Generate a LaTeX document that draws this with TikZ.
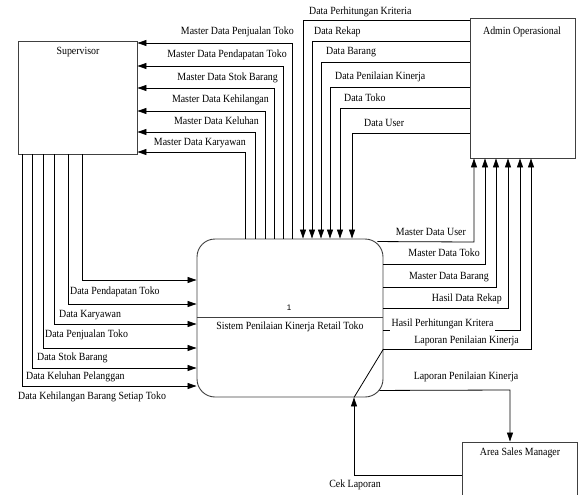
\documentclass[tikz,border=0pt]{standalone}
\usepackage{fontspec}
\setmainfont{Liberation Serif}[FakeStretch=0.9]
\setsansfont{Liberation Sans}
\usetikzlibrary{arrows.meta,calc}
\begin{document}
\begin{tikzpicture}[x=1pt,y=-1pt,
  every node/.style={font=\fontsize{11}{13}\selectfont},
  ent/.style={draw=black!75, line width=0.9pt, rectangle, inner sep=0pt},
  procbox/.style={draw=black!75, line width=0.9pt, rectangle, rounded corners=18pt, inner sep=0pt},
  flow/.style={draw=black, line width=0.8pt, -{Triangle[length=9pt,width=6pt]}},
  plainline/.style={draw=black, line width=0.8pt},
  lbl/.style={inner sep=1pt, text height=8pt, text depth=2.5pt},
]
\useasboundingbox (0,0) rectangle (578,495);
\clip (0,0) rectangle (578,495);

% entities and process
\node[ent, minimum width=119pt, minimum height=113pt] (sup) at (77.5,97.5) {};
\node[lbl] (tsup) at (78,52) {Supervisor};
\node[ent, minimum width=105pt, minimum height=140pt] (adm) at (522.5,88) {};
\node[lbl] (tadm) at (522,32) {Admin Operasional};
\node[procbox, minimum width=186pt, minimum height=158pt] (p) at (290,318) {};
\draw[draw=black!75, line width=0.9pt] (p.west |- 0,317) -- (p.east |- 0,317);
\node[inner sep=0pt, font=\sffamily\fontsize{8}{9}\selectfont] (pnum) at (289,308) {1};
\node[lbl] (ptitle) at (290,327) {Sistem Penilaian Kinerja Retail Toko};
\node[ent, minimum width=115pt, minimum height=100pt] (asm) at (519.5,492) {};
\node[lbl] (tasm) at (520,453) {Area Sales Manager};

% process -> supervisor (master data)
\draw[flow] (p.north -| 292,0) -- (292,43) -- (sup.east |- 0,43);
\draw[flow] (p.north -| 283,0) -- (283,66) -- (sup.east |- 0,66);
\draw[flow] (p.north -| 274,0) -- (274,88) -- (sup.east |- 0,88);
\draw[flow] (p.north -| 265,0) -- (265,111) -- (sup.east |- 0,111);
\draw[flow] (p.north -| 255,0) -- (255,132) -- (sup.east |- 0,132);
\draw[flow] (p.north -| 245,0) -- (245,152) -- (sup.east |- 0,152);
\node[lbl, anchor=east] (l1) at (295,32) {Master Data Penjualan Toko};
\node[lbl, anchor=east] (l2) at (288,55) {Master Data Pendapatan Toko};
\node[lbl, anchor=east] (l3) at (279,78) {Master Data Stok Barang};
\node[lbl, anchor=east] (l4) at (270,100) {Master Data Kehilangan};
\node[lbl, anchor=east] (l5) at (260,122) {Master Data Keluhan};
\node[lbl, anchor=east] (l6) at (247,143) {Master Data Karyawan};

% admin -> process
\draw[flow] (adm.west |- 0,20) -- (303,20) -- (p.north -| 303,0);
\draw[flow] (adm.west |- 0,41) -- (312,41) -- (p.north -| 312,0);
\draw[flow] (adm.west |- 0,62) -- (321,62) -- (p.north -| 321,0);
\draw[flow] (adm.west |- 0,87) -- (330,87) -- (p.north -| 330,0);
\draw[flow] (adm.west |- 0,108) -- (340,108) -- (p.north -| 340,0);
\draw[flow] (adm.west |- 0,133) -- (352,133) -- (p.north -| 352,0);
\node[lbl, anchor=west] (a1) at (308,12) {Data Perhitungan Kriteria};
\node[lbl, anchor=west] (a2) at (313,32) {Data Rekap};
\node[lbl, anchor=west] (a3) at (325,52) {Data Barang};
\node[lbl, anchor=west] (a4) at (334,77) {Data Penilaian Kinerja};
\node[lbl, anchor=west] (a5) at (343,99) {Data Toko};
\node[lbl, anchor=west] (a6) at (363,124) {Data User};

% process -> admin
\draw[flow] ($(p.north east)+(-6,3)$) -- (474,242) -- (adm.south -| 474,0);
\draw[flow] (p.east |- 0,264) -- (485,264) -- (adm.south -| 485,0);
\draw[flow] (p.east |- 0,287) -- (496,287) -- (adm.south -| 496,0);
\draw[flow] (p.east |- 0,308) -- (508,308) -- (adm.south -| 508,0);
\draw[flow] (p.east |- 0,330) -- (520,330) -- (adm.south -| 520,0);
\draw[flow] (p.east |- 0,349) -- (531,349) -- (adm.south -| 531,0);
\node[lbl, anchor=east] (r1) at (467,233) {Master Data User};
\node[lbl, anchor=east] (r2) at (481,254) {Master Data Toko};
\node[lbl, anchor=east] (r3) at (490,277) {Master Data Barang};
\node[lbl, anchor=east] (r4) at (503,299) {Hasil Data Rekap};
\node[lbl, anchor=west, fill=white, inner sep=1.5pt] (r5) at (390,324) {Hasil Perhitungan Kritera};
\node[lbl, anchor=east] (r6) at (520,341) {Laporan Penilaian Kinerja};

% supervisor -> process
\draw[flow] (sup.south -| 82,0) -- (82,280) -- (p.west |- 0,280);
\draw[flow] (sup.south -| 68,0) -- (68,304) -- (p.west |- 0,304);
\draw[flow] (sup.south -| 54,0) -- (54,324) -- (p.west |- 0,324);
\draw[flow] (sup.south -| 43,0) -- (43,348) -- (p.west |- 0,348);
\draw[flow] (sup.south -| 32,0) -- (32,368) -- (p.west |- 0,368);
\draw[flow] (sup.south -| 22,0) -- (22,386) -- (p.west |- 0,386);
\node[lbl, anchor=west] (s1) at (69,292) {Data Pendapatan Toko};
\node[lbl, anchor=west] (s2) at (58,315) {Data Karyawan};
\node[lbl, anchor=west] (s3) at (44,335) {Data Penjualan Toko};
\node[lbl, anchor=west] (s4) at (36,358) {Data Stok Barang};
\node[lbl, anchor=west] (s5) at (25,377) {Data Keluhan Pelanggan};
\node[lbl, anchor=west] (s6) at (17,397) {Data Kehilangan Barang Setiap Toko};

% process <-> area sales manager
\draw[plainline] (p.east |- 0,349) -- (p.south -| 354,0);
\draw[flow] ($(p.south east)+(-4,-7)$) -- (510,390) -- (asm.north -| 510,0);
\node[lbl] (b1) at (466,377) {Laporan Penilaian Kinerja};
\draw[flow] (asm.west |- 0,475) -- (354,475) -- (p.south -| 354,0);
\node[lbl] (b2) at (355,485) {Cek Laporan};
\end{tikzpicture}
\end{document}
